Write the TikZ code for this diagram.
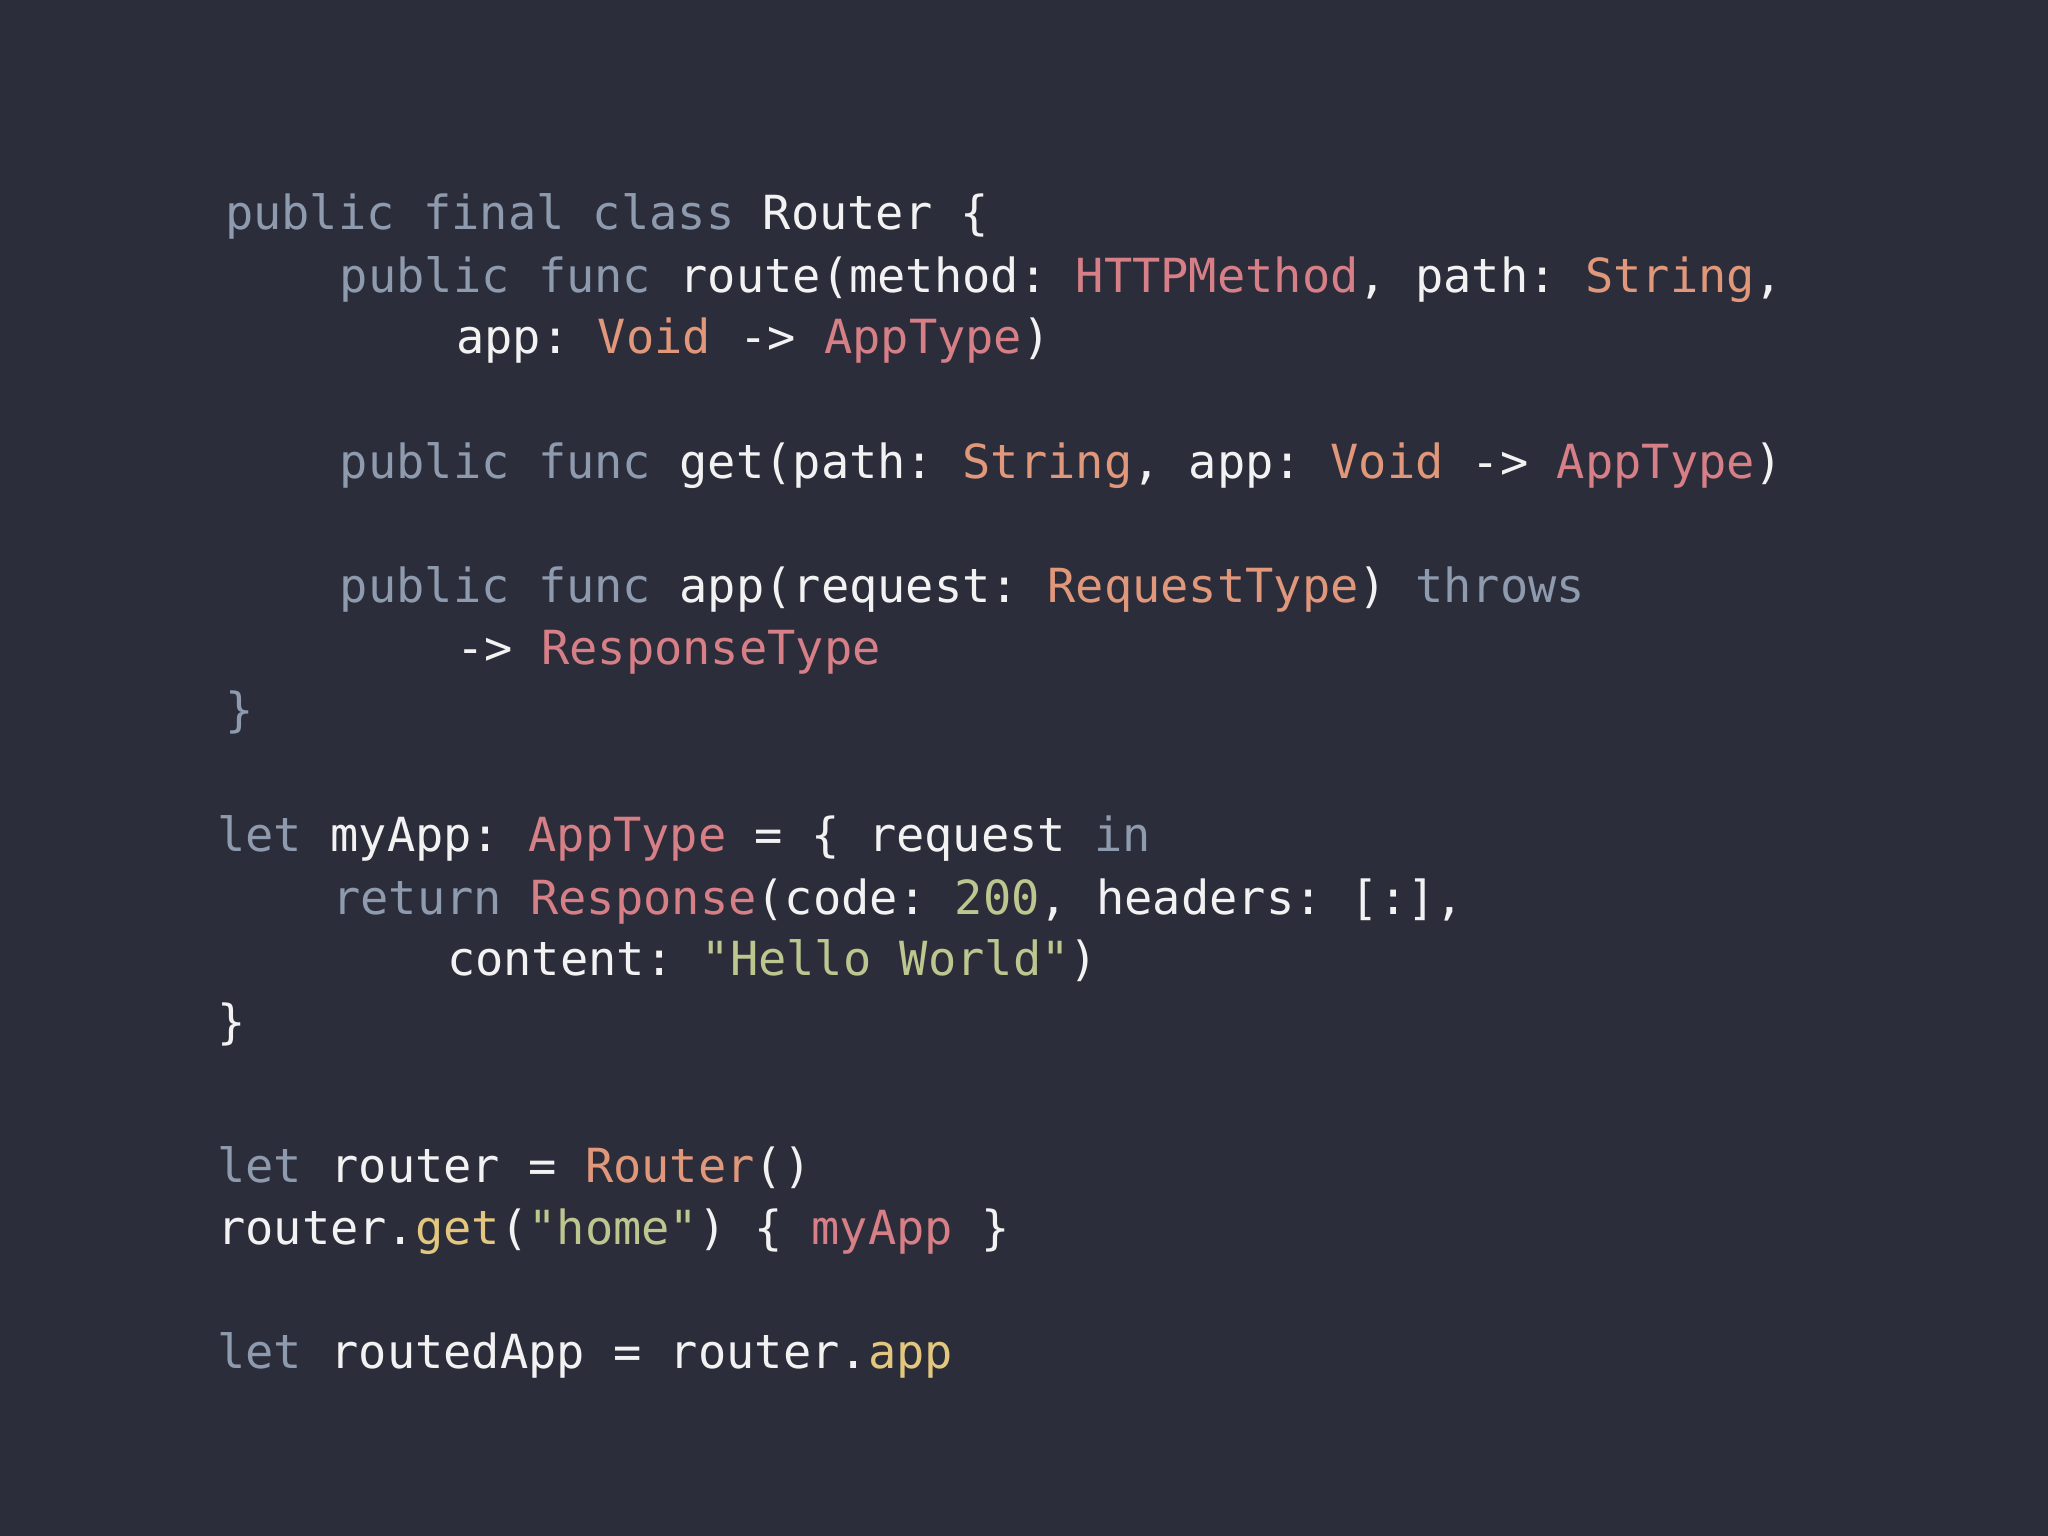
\documentclass[tikz,border=0pt]{standalone}
\usepackage{fontspec}
\setmonofont{DejaVu Sans Mono}
\definecolor{bg}{HTML}{2C2D3A}
\definecolor{kw}{HTML}{8E9AAD}
\definecolor{tx}{HTML}{F2F2F2}
\definecolor{ty}{HTML}{E0977A}
\definecolor{pk}{HTML}{D67F86}
\definecolor{gr}{HTML}{BCC78F}
\definecolor{yl}{HTML}{E3C77E}
\newcommand\Kw[1]{\textcolor{kw}{#1}}
\newcommand\Ty[1]{\textcolor{ty}{#1}}
\newcommand\Pk[1]{\textcolor{pk}{#1}}
\newcommand\Gr[1]{\textcolor{gr}{#1}}
\newcommand\Yl[1]{\textcolor{yl}{#1}}
\begin{document}
\begin{tikzpicture}[x=0.653pt,y=-0.653pt,
  code/.style={anchor=base west,inner sep=0pt,text=tx,font=\ttfamily\fontsize{23.5pt}{28pt}\selectfont}]
\fill[bg] (0,0) rectangle (1568,1176);
\useasboundingbox (0,0) rectangle (1568,1176);
\node[code] (l1) at (172,176) {\Kw{public final class} Router \{};
\node[code] (l2) at (260,224) {\Kw{public func} route(method: \Pk{HTTPMethod}, path: \Ty{String},};
\node[code] (l3) at (349,271) {app: \Ty{Void} -> \Pk{AppType})};
\node[code] (l4) at (260,366) {\Kw{public func} get(path: \Ty{String}, app: \Ty{Void} -> \Pk{AppType})};
\node[code] (l5) at (260,461) {\Kw{public func} app(request: \Ty{RequestType}) \Kw{throws}};
\node[code] (l6) at (349,509) {-> \Pk{ResponseType}};
\node[code] (l7) at (172,556) {\Kw{\}}};
\node[code] (l8) at (166,652) {\Kw{let} myApp: \Pk{AppType} = \{ request \Kw{in}};
\node[code] (l9) at (254,700) {\Kw{return} \Pk{Response}(code: \Gr{200}, headers: [:],};
\node[code] (l10) at (342,747) {content: \Gr{"Hello World"})};
\node[code] (l11) at (166,795) {\}};
\node[code] (l12) at (166,905) {\Kw{let} router = \Ty{Router}()};
\node[code] (l13) at (166,953) {router.\Yl{get}(\Gr{"home"}) \{ \Pk{myApp} \}};
\node[code] (l14) at (166,1048) {\Kw{let} routedApp = router.\Yl{app}};
\end{tikzpicture}
\end{document}
